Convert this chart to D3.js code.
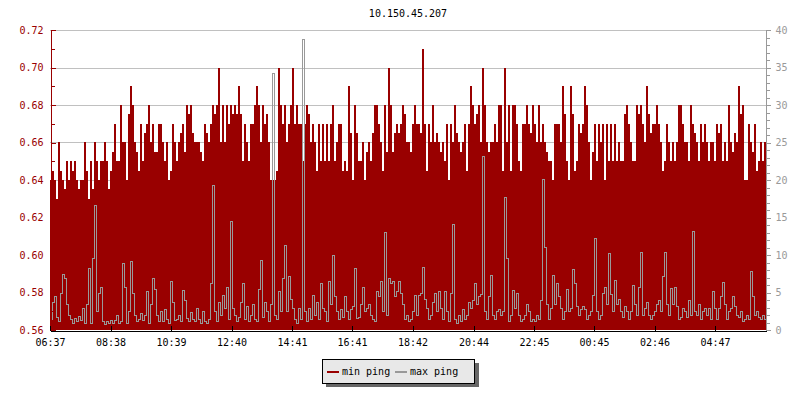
<!DOCTYPE html>
<html><head><meta charset="utf-8">
<script src="https://cdn.jsdelivr.net/npm/d3@7"></script>
<style>
body{margin:0;background:#fff}
text{font-family:"DejaVu Sans Mono",monospace;font-size:10px}
</style>
</head><body><svg id="c" width="800" height="400"></svg>
<script>
const title = "10.150.45.207";
const stepMinutes = 4;
const timeTickLabels = ["06:37","08:38","10:39","12:40","14:41","16:41","18:42","20:44","22:45","00:45","02:46","04:47"];
const leftTicks = [0.56,0.58,0.60,0.62,0.64,0.66,0.68,0.70,0.72];
const leftMinorTicks = [0.57,0.59,0.61,0.63,0.65,0.67,0.69,0.71];
const rightTicks = [0,5,10,15,20,25,30,35,40];
const rightMinorTicks = [1,2,3,4,6,7,8,9,11,12,13,14,16,17,18,19,21,22,23,24,26,27,28,29,31,32,33,34,36,37,38,39];
const seriesNames = ["min ping","max ping"];
const seriesColors = ["#990000","#999999"];

const minPing = [
0.64,0.645,0.64,0.63,0.66,0.645,0.64,0.635,0.65,0.64,
0.65,0.645,0.65,0.64,0.635,0.64,0.64,0.66,0.645,0.63,
0.65,0.635,0.66,0.65,0.64,0.65,0.65,0.66,0.65,0.635,
0.645,0.655,0.67,0.65,0.65,0.68,0.66,0.66,0.64,0.675,
0.69,0.68,0.66,0.655,0.645,0.67,0.65,0.665,0.67,0.68,
0.66,0.67,0.655,0.655,0.67,0.67,0.66,0.65,0.66,0.64,
0.645,0.67,0.66,0.65,0.66,0.665,0.67,0.655,0.68,0.675,0.68,0.665,
0.66,0.66,0.66,0.655,0.65,0.67,0.665,0.66,0.67,0.68,
0.675,0.68,0.70,0.66,0.68,0.66,0.68,0.67,0.68,0.675,
0.68,0.675,0.69,0.675,0.65,0.67,0.66,0.65,0.67,0.67,
0.68,0.69,0.68,0.66,0.68,0.67,0.675,0.66,0.64,0.64,
0.64,0.645,0.70,0.68,0.67,0.68,0.66,0.67,0.68,0.70,
0.67,0.68,0.67,0.67,0.65,0.67,0.68,0.675,0.66,0.67,
0.66,0.645,0.67,0.65,0.67,0.65,0.67,0.65,0.67,0.68,
0.65,0.66,
0.67,0.67,0.645,0.65,0.645,0.69,0.665,0.64,0.68,0.665,
0.65,0.65,0.66,0.64,0.655,0.66,0.65,0.665,0.68,0.68,
0.67,0.66,0.645,0.68,0.655,0.70,0.68,0.655,0.665,0.67,
0.665,0.67,0.68,0.675,0.66,0.66,0.655,0.67,0.68,0.67,
0.67,0.665,0.71,0.67,0.645,0.67,0.66,0.68,0.66,0.665,
0.66,0.655,0.66,0.65,0.67,0.64,0.67,0.66,0.68,0.665,
0.66,0.655,0.66,0.67,0.645,0.67,0.69,0.68,0.67,0.675,
0.68,0.66,
0.70,0.68,0.66,0.655,0.66,0.66,0.67,0.66,0.68,0.68,
0.645,0.70,0.66,0.68,0.645,0.68,0.68,0.67,0.65,0.645,
0.67,0.67,0.68,0.67,0.665,0.68,0.67,0.66,0.68,0.66,
0.67,0.66,0.655,0.65,0.65,0.64,0.67,0.67,0.67,0.66,
0.69,0.675,0.65,0.64,0.69,0.675,0.645,0.65,0.67,0.665,
0.67,0.69,0.68,0.66,0.64,0.655,0.67,0.65,0.67,0.66,
0.67,0.64,0.67,0.65,0.67,0.65,0.67,0.65,0.66,0.65,
0.65,0.675,
0.68,0.67,0.66,0.65,0.65,0.68,0.675,0.68,0.67,0.66,
0.69,0.675,0.665,0.67,0.67,0.68,0.67,0.66,0.645,0.65,
0.67,0.66,0.65,0.66,0.65,0.66,0.68,0.68,0.67,0.66,
0.66,0.65,0.68,0.67,0.665,0.66,0.65,0.67,0.66,0.67,
0.66,0.65,0.66,0.66,0.65,0.67,0.665,0.67,0.65,0.66,
0.65,0.68,0.66,0.655,0.665,0.66,0.69,0.675,0.68,0.64,
0.64,0.67,0.66,0.655,0.67,0.645,0.65,0.66,0.65,0.66
];

const maxPing = [
1.5,3.8,4.5,1.8,1.2,5.0,7.5,7.0,3.5,2.0,
1.5,1.0,1.6,1.2,1.9,1.4,3.0,1.0,3.5,8.3,
1.0,9.6,16.7,2.5,5.0,5.8,1.2,0.8,1.2,1.0,
1.3,1.0,1.4,2.0,1.0,1.2,9.0,5.8,1.0,2.5,
9.2,5.0,2.0,1.2,1.5,2.2,1.3,2.0,5.2,1.0,
3.5,7.0,5.5,2.0,1.2,2.5,1.2,2.8,1.5,1.0,
6.6,3.8,1.3,1.5,2.0,1.2,5.4,4.0,1.6,1.2,2.4,1.5,
1.2,3.0,1.5,1.0,2.5,1.2,1.0,1.5,6.3,19.4,
2.5,1.2,3.8,2.0,4.7,3.0,5.8,1.5,14.5,3.0,
2.0,1.2,1.8,3.8,6.3,1.5,3.2,1.2,2.0,3.5,
1.5,1.2,5.5,9.4,1.8,3.8,2.5,1.2,3.5,34.3,
2.0,1.5,5.2,2.5,7.0,11.4,2.5,7.2,4.2,3.0,
1.5,1.0,3.0,1.5,38.8,2.5,1.2,3.0,1.5,4.7,
2.0,3.8,1.5,6.3,3.0,2.5,1.2,6.5,3.5,10.0,
4.5,2.5,
1.5,2.8,1.8,4.5,2.5,1.5,2.8,3.2,8.3,1.6,
1.8,3.5,5.8,2.5,3.0,3.5,2.0,1.5,1.2,5.2,
4.5,6.5,2.5,13.1,2.0,7.0,6.3,6.5,4.5,5.2,
6.5,5.0,3.5,1.5,2.0,1.2,1.5,2.5,4.7,2.0,
4.7,5.0,8.4,4.2,3.0,1.5,2.0,3.8,5.0,2.5,
5.2,3.0,1.5,5.2,2.5,1.2,5.0,14.1,1.5,1.0,
2.0,1.2,2.8,1.5,2.0,3.8,3.0,4.0,6.3,3.5,
4.5,4.8,
23.2,2.5,1.5,4.5,7.4,2.0,1.5,2.5,2.8,2.0,
2.5,17.7,9.6,1.2,2.0,5.4,3.0,5.0,2.0,1.2,
1.5,2.0,3.5,2.5,1.2,1.5,1.2,2.0,1.5,4.0,
20.1,11.1,3.5,1.5,3.0,7.4,3.5,6.3,4.5,3.0,
1.5,2.5,5.5,2.5,3.0,8.2,6.3,3.2,2.0,2.8,
3.2,2.8,1.5,2.0,2.5,4.7,12.3,2.5,1.5,2.0,
5.0,5.8,3.5,10.3,4.8,2.5,6.7,3.5,4.2,2.5,
1.8,3.2,
2.5,1.5,2.5,6.0,3.5,2.0,5.8,10.4,2.0,3.0,
3.8,2.0,1.5,2.0,2.5,3.5,4.0,2.5,7.2,10.4,
3.5,2.0,5.6,3.5,5.8,3.2,1.5,1.8,3.0,2.5,
1.8,4.0,2.0,13.2,2.5,2.0,3.5,1.5,2.5,3.0,
2.0,3.0,1.5,5.2,3.0,1.5,3.0,4.5,6.4,3.5,
1.5,2.5,3.0,4.5,3.2,2.0,1.8,2.5,1.2,1.5,
2.0,1.5,7.9,4.5,2.0,2.5,1.8,1.5,2.0,1.5
];

const svg = d3.select("#c");
const plot = {left:50, right:766, top:30, bottom:330};
const total = minPing.length * stepMinutes;
const x = d3.scaleLinear().domain([0, total]).range([plot.left, plot.right]);
const yL = d3.scaleLinear().domain([0.56, 0.72]).range([plot.bottom, plot.top]);
const yR = d3.scaleLinear().domain([0, 40]).range([plot.bottom, plot.top]);

// tick minutes from labels (wrapping at midnight)
const toMin = s => { const [h,m] = s.split(":").map(Number); return h*60+m; };
const t0 = toMin(timeTickLabels[0]);
const tickMinutes = timeTickLabels.map(s => (toMin(s) - t0 + 1440) % 1440);

// grid
svg.append("g").selectAll("line").data(leftTicks.slice(1)).join("line")
  .attr("x1", plot.left).attr("x2", plot.right)
  .attr("y1", d => Math.round(yL(d)) + 0.5).attr("y2", d => Math.round(yL(d)) + 0.5)
  .attr("stroke", "#c0c0c0").attr("stroke-width", 1);

// data with end sentinel for step curves
const minData = minPing.map((v,i) => ({t: i*stepMinutes, v}));
minData.push({t: total, v: minPing[minPing.length-1]});
const maxData = maxPing.map((v,i) => ({t: i*stepMinutes, v}));
maxData.push({t: total, v: maxPing[maxPing.length-1]});

const area = d3.area().curve(d3.curveStepAfter)
  .x(d => x(d.t)).y0(plot.bottom).y1(d => Math.round(yL(d.v)));
svg.append("path").datum(minData).attr("d", area)
  .attr("fill", seriesColors[0]).attr("shape-rendering", "crispEdges");

const line = d3.line().curve(d3.curveStepAfter)
  .x(d => x(d.t) + 0.5).y(d => Math.round(yR(d.v)) + 0.5);
svg.append("path").datum(maxData).attr("d", line)
  .attr("fill", "none").attr("stroke", seriesColors[1]).attr("stroke-width", 1)
  .attr("shape-rendering", "crispEdges");

// left axis
const gL = svg.append("g").attr("transform", `translate(${plot.left + 0.5},0)`).style("color", "#990000");
gL.call(d3.axisLeft(yL).tickValues(leftTicks).tickFormat(d3.format(".2f"))
  .tickSizeInner(-5).tickSizeOuter(0).tickPadding(7));
gL.append("g").call(d3.axisLeft(yL).tickValues(leftMinorTicks).tickFormat("")
  .tickSizeInner(-4).tickSizeOuter(0)).select(".domain").remove();
gL.selectAll("text").attr("fill", "#990000").style("font-family", "DejaVu Sans Mono").style("font-size", "10px");

// right axis
const gR = svg.append("g").attr("transform", `translate(${plot.right - 0.5},0)`).style("color", "#999999");
gR.call(d3.axisRight(yR).tickValues(rightTicks).tickFormat(d3.format("d"))
  .tickSizeInner(5).tickSizeOuter(0).tickPadding(5));
gR.append("g").call(d3.axisRight(yR).tickValues(rightMinorTicks).tickFormat("")
  .tickSizeInner(4).tickSizeOuter(0)).select(".domain").remove();
gR.selectAll("text").style("font-family", "DejaVu Sans Mono").style("font-size", "10px");

// bottom axis
const gB = svg.append("g").attr("transform", `translate(0,${plot.bottom + 0.5})`).style("color", "#000");
gB.call(d3.axisBottom(x).tickValues(tickMinutes).tickFormat((d,i) => timeTickLabels[i])
  .tickSizeInner(-5).tickSizeOuter(0).tickPadding(8));
gB.selectAll("text").style("font-family", "DejaVu Sans Mono").style("font-size", "10px");
svg.selectAll(".tick line, .domain").attr("shape-rendering", "crispEdges");

// title
svg.append("text").attr("x", (plot.left + plot.right) / 2).attr("y", 17)
  .attr("text-anchor", "middle").attr("fill", "#000").text(title);

// legend
const lg = svg.append("g");
lg.append("rect").attr("x", 326).attr("y", 363).attr("width", 153).attr("height", 24).attr("fill", "#666");
lg.append("rect").attr("x", 322.5).attr("y", 359.5).attr("width", 152).attr("height", 24)
  .attr("fill", "#e8e8e8").attr("stroke", "#000").attr("stroke-width", 1);
const items = [{x0:327, tx:342}, {x0:395, tx:410}];
items.forEach((it, i) => {
  lg.append("line").attr("x1", it.x0).attr("x2", it.x0 + 12).attr("y1", 372).attr("y2", 372)
    .attr("stroke", seriesColors[i]).attr("stroke-width", 2);
  lg.append("text").attr("x", it.tx).attr("y", 374.5).attr("fill", "#000").text(seriesNames[i]);
});
</script>
</body></html>
